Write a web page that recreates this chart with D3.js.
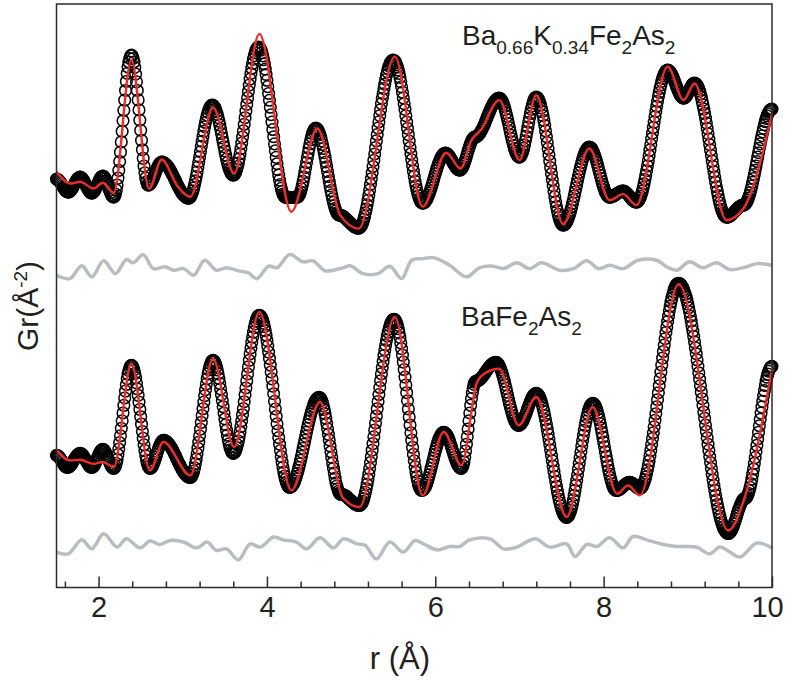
<!DOCTYPE html>
<html>
<head>
<meta charset="utf-8">
<script src="https://cdn.jsdelivr.net/npm/d3@7"></script>
<style>
  body { margin: 0; background: #fff; }
  svg { display: block; }
  text { font-family: "Liberation Sans", Arial, Helvetica, sans-serif; fill: #231f20; }
</style>
</head>
<body>
<svg id="chart" width="786" height="680"></svg>
<script>
// Pair distribution functions G(r), measured on a regular r grid
const rStart = 1.5;
const rStep = 0.01;

// Ba0.66K0.34Fe2As2, measured (one row per 0.5 Å)
const obsK = [
  0.05,0.04,0.02,-0.02,-0.07,-0.13,-0.20,-0.27,-0.35,-0.42,-0.48,-0.53,-0.57,-0.59,-0.60,-0.59,-0.56,-0.52,-0.46,-0.39,-0.31,-0.23,-0.14,-0.06,0.01,0.07,0.11,0.14,0.15,0.14,0.11,0.06,0.00,-0.08,-0.16,-0.25,-0.34,-0.42,-0.50,-0.56,-0.61,-0.64,-0.65,-0.63,-0.60,-0.54,-0.47,-0.38,-0.28,-0.18,
  -0.08,0.01,0.10,0.16,0.19,0.20,0.19,0.14,0.07,-0.03,-0.14,-0.26,-0.39,-0.51,-0.62,-0.72,-0.79,-0.83,-0.85,-0.80,-0.69,-0.50,-0.24,0.10,0.49,0.93,1.40,1.91,2.44,2.97,3.49,4.00,4.48,4.93,5.33,5.65,5.90,6.08,6.21,6.25,6.21,6.08,5.90,5.63,5.30,4.91,4.48,4.01,3.51,3.00,
  2.49,1.99,1.52,1.09,0.70,0.37,0.10,-0.08,-0.21,-0.25,-0.24,-0.20,-0.15,-0.07,0.01,0.11,0.21,0.32,0.44,0.54,0.64,0.73,0.80,0.85,0.89,0.90,0.90,0.88,0.86,0.83,0.79,0.75,0.70,0.64,0.57,0.50,0.42,0.34,0.26,0.18,0.09,0.00,-0.09,-0.18,-0.26,-0.34,-0.42,-0.50,-0.57,-0.64,
  -0.70,-0.75,-0.79,-0.83,-0.86,-0.88,-0.90,-0.90,-0.89,-0.84,-0.77,-0.67,-0.54,-0.39,-0.22,-0.03,0.18,0.41,0.66,0.91,1.16,1.42,1.69,1.94,2.19,2.44,2.67,2.88,3.07,3.24,3.39,3.52,3.62,3.69,3.74,3.75,3.74,3.70,3.63,3.54,3.42,3.28,3.12,2.94,2.75,2.54,2.33,2.11,1.89,1.67,
  1.46,1.25,1.06,0.88,0.72,0.58,0.47,0.38,0.31,0.27,0.25,0.27,0.32,0.41,0.53,0.68,0.86,1.07,1.31,1.57,1.85,2.15,2.46,2.79,3.12,3.45,3.78,4.11,4.44,4.75,5.05,5.33,5.59,5.83,6.04,6.22,6.37,6.49,6.58,6.63,6.65,6.63,6.58,6.49,6.37,6.21,6.02,5.80,5.55,5.28,
  4.99,4.67,4.33,3.99,3.64,3.27,2.90,2.53,2.17,1.81,1.47,1.14,0.82,0.52,0.25,0.00,-0.22,-0.41,-0.57,-0.69,-0.78,-0.83,-0.85,-0.86,-0.86,-0.87,-0.87,-0.87,-0.87,-0.87,-0.87,-0.87,-0.86,-0.86,-0.86,-0.86,-0.85,-0.83,-0.78,-0.69,-0.58,-0.43,-0.26,-0.06,0.16,0.39,0.63,0.88,1.12,1.36,
  1.59,1.81,2.01,2.18,2.32,2.44,2.53,2.58,2.60,2.58,2.55,2.48,2.38,2.27,2.13,1.96,1.78,1.58,1.37,1.15,0.91,0.67,0.43,0.18,-0.06,-0.29,-0.52,-0.73,-0.93,-1.11,-1.27,-1.41,-1.53,-1.63,-1.70,-1.73,-1.75,-1.75,-1.76,-1.78,-1.80,-1.82,-1.85,-1.89,-1.93,-1.97,-2.01,-2.06,-2.10,-2.14,
  -2.18,-2.22,-2.26,-2.30,-2.33,-2.35,-2.37,-2.39,-2.40,-2.40,-2.39,-2.35,-2.29,-2.20,-2.10,-1.96,-1.81,-1.63,-1.44,-1.23,-1.01,-0.76,-0.49,-0.21,0.07,0.37,0.68,0.99,1.31,1.63,1.96,2.28,2.60,2.91,3.22,3.52,3.82,4.08,4.32,4.57,4.80,5.03,5.24,5.41,5.57,5.70,5.81,5.89,5.95,5.99,
  6.00,5.98,5.94,5.87,5.77,5.65,5.50,5.33,5.13,4.91,4.66,4.39,4.11,3.82,3.53,3.22,2.90,2.59,2.27,1.95,1.63,1.32,1.02,0.73,0.45,0.19,-0.06,-0.28,-0.47,-0.64,-0.79,-0.92,-1.02,-1.09,-1.14,-1.15,-1.14,-1.12,-1.08,-1.02,-0.95,-0.86,-0.76,-0.65,-0.53,-0.40,-0.26,-0.12,0.03,0.18,
  0.32,0.46,0.60,0.73,0.85,0.96,1.06,1.15,1.22,1.28,1.32,1.34,1.35,1.34,1.32,1.29,1.24,1.18,1.11,1.04,0.96,0.88,0.81,0.74,0.67,0.61,0.56,0.53,0.51,0.50,0.51,0.55,0.61,0.70,0.80,0.92,1.04,1.18,1.33,1.47,1.61,1.73,1.85,1.95,2.04,2.10,2.14,2.15,2.16,2.18,
  2.20,2.24,2.29,2.35,2.42,2.50,2.58,2.67,2.76,2.86,2.97,3.07,3.18,3.28,3.38,3.48,3.58,3.67,3.76,3.84,3.91,3.96,4.01,4.05,4.08,4.09,4.10,4.08,4.05,3.98,3.90,3.79,3.67,3.52,3.36,3.19,3.01,2.82,2.63,2.43,2.24,2.06,1.89,1.73,1.58,1.46,1.35,1.27,1.20,1.16,
  1.15,1.17,1.22,1.32,1.44,1.59,1.77,1.97,2.19,2.42,2.65,2.89,3.12,3.33,3.53,3.71,3.86,3.98,4.08,4.13,4.15,4.13,4.09,4.01,3.91,3.77,3.61,3.42,3.22,2.98,2.73,2.46,2.17,1.88,1.58,1.27,0.95,0.63,0.32,0.02,-0.27,-0.56,-0.83,-1.08,-1.32,-1.52,-1.71,-1.87,-2.01,-2.11,
  -2.19,-2.23,-2.25,-2.24,-2.21,-2.16,-2.09,-2.00,-1.90,-1.78,-1.65,-1.50,-1.33,-1.16,-0.98,-0.79,-0.59,-0.40,-0.20,0.00,0.19,0.38,0.56,0.73,0.89,1.04,1.17,1.30,1.41,1.49,1.56,1.61,1.64,1.65,1.64,1.61,1.56,1.48,1.39,1.28,1.16,1.03,0.88,0.72,0.56,0.40,0.24,0.08,-0.08,-0.22,
  -0.35,-0.48,-0.59,-0.68,-0.76,-0.81,-0.84,-0.85,-0.85,-0.84,-0.82,-0.80,-0.78,-0.76,-0.73,-0.70,-0.67,-0.64,-0.62,-0.60,-0.58,-0.56,-0.55,-0.55,-0.55,-0.57,-0.60,-0.63,-0.67,-0.72,-0.77,-0.82,-0.88,-0.93,-0.98,-1.02,-1.05,-1.08,-1.09,-1.10,-1.09,-1.05,-0.99,-0.91,-0.81,-0.68,-0.54,-0.37,-0.18,0.03,
  0.24,0.47,0.71,0.96,1.22,1.50,1.78,2.07,2.35,2.63,2.90,3.17,3.43,3.69,3.94,4.17,4.38,4.58,4.76,4.93,5.08,5.20,5.31,5.39,5.45,5.49,5.50,5.49,5.46,5.41,5.35,5.27,5.18,5.08,4.97,4.86,4.74,4.63,4.52,4.42,4.33,4.25,4.18,4.14,4.11,4.10,4.11,4.14,4.19,4.26,
  4.34,4.43,4.52,4.61,4.69,4.76,4.81,4.84,4.85,4.83,4.80,4.74,4.67,4.57,4.45,4.31,4.15,3.96,3.76,3.55,3.33,3.10,2.86,2.59,2.32,2.05,1.77,1.50,1.23,0.95,0.68,0.42,0.16,-0.09,-0.33,-0.56,-0.77,-0.97,-1.15,-1.31,-1.45,-1.57,-1.67,-1.74,-1.80,-1.83,-1.85,-1.85,-1.84,-1.82,
  -1.79,-1.76,-1.73,-1.69,-1.64,-1.60,-1.55,-1.50,-1.46,-1.41,-1.37,-1.34,-1.31,-1.28,-1.26,-1.25,-1.25,-1.24,-1.21,-1.16,-1.09,-1.00,-0.89,-0.77,-0.63,-0.47,-0.29,-0.11,0.08,0.28,0.49,0.71,0.93,1.15,1.37,1.59,1.81,2.02,2.22,2.41,2.59,2.77,2.93,3.08,3.21,3.31,3.39,3.46,3.51,3.54,
  3.55
];

// BaFe2As2, measured (one row per 0.5 Å)
const obsBa = [
  0.15,0.14,0.12,0.07,0.02,-0.04,-0.11,-0.18,-0.26,-0.32,-0.38,-0.42,-0.44,-0.45,-0.44,-0.42,-0.38,-0.34,-0.28,-0.21,-0.14,-0.06,0.01,0.07,0.13,0.18,0.22,0.24,0.25,0.24,0.22,0.18,0.12,0.05,-0.02,-0.10,-0.18,-0.25,-0.32,-0.38,-0.42,-0.44,-0.45,-0.43,-0.40,-0.34,-0.26,-0.16,-0.05,0.06,
  0.16,0.26,0.34,0.40,0.44,0.45,0.44,0.39,0.33,0.24,0.14,0.03,-0.08,-0.19,-0.29,-0.38,-0.45,-0.49,-0.50,-0.47,-0.39,-0.25,-0.06,0.19,0.47,0.79,1.13,1.50,1.88,2.27,2.65,3.02,3.36,3.69,3.98,4.21,4.39,4.53,4.62,4.65,4.62,4.54,4.42,4.24,4.03,3.77,3.47,3.15,2.81,2.45,
  2.08,1.71,1.34,1.00,0.68,0.39,0.13,-0.09,-0.27,-0.39,-0.47,-0.50,-0.49,-0.45,-0.38,-0.29,-0.19,-0.07,0.06,0.20,0.34,0.47,0.59,0.69,0.78,0.84,0.89,0.90,0.90,0.88,0.86,0.83,0.79,0.74,0.69,0.63,0.56,0.49,0.41,0.33,0.24,0.16,0.07,-0.03,-0.12,-0.21,-0.29,-0.38,-0.46,-0.54,
  -0.61,-0.68,-0.74,-0.79,-0.84,-0.88,-0.91,-0.93,-0.95,-0.95,-0.93,-0.87,-0.77,-0.63,-0.47,-0.26,-0.03,0.23,0.51,0.81,1.13,1.46,1.80,2.14,2.48,2.81,3.13,3.43,3.72,3.98,4.22,4.42,4.59,4.72,4.82,4.88,4.90,4.87,4.82,4.72,4.59,4.42,4.22,3.99,3.74,3.47,3.18,2.88,2.58,2.27,
  1.97,1.68,1.41,1.16,0.93,0.73,0.56,0.43,0.33,0.27,0.25,0.27,0.32,0.41,0.53,0.68,0.86,1.08,1.32,1.59,1.88,2.18,2.49,2.83,3.18,3.52,3.87,4.22,4.57,4.90,5.22,5.52,5.80,6.07,6.31,6.53,6.72,6.87,6.99,7.08,7.13,7.15,7.13,7.08,7.00,6.89,6.75,6.58,6.38,6.15,
  5.89,5.61,5.31,4.99,4.66,4.32,3.97,3.61,3.23,2.85,2.47,2.10,1.73,1.38,1.04,0.71,0.39,0.09,-0.19,-0.45,-0.68,-0.88,-1.05,-1.19,-1.30,-1.38,-1.43,-1.45,-1.44,-1.41,-1.37,-1.31,-1.23,-1.13,-1.02,-0.89,-0.75,-0.60,-0.44,-0.27,-0.09,0.10,0.30,0.50,0.70,0.90,1.10,1.30,1.50,1.69,
  1.87,2.04,2.20,2.35,2.49,2.62,2.74,2.83,2.91,2.97,3.01,3.04,3.05,3.03,2.98,2.90,2.78,2.62,2.44,2.23,2.00,1.75,1.48,1.20,0.92,0.62,0.33,0.05,-0.23,-0.49,-0.73,-0.99,-1.22,-1.38,-1.52,-1.64,-1.73,-1.78,-1.80,-1.80,-1.81,-1.82,-1.84,-1.86,-1.89,-1.92,-1.96,-2.00,-2.04,-2.08,
  -2.11,-2.15,-2.19,-2.23,-2.26,-2.29,-2.31,-2.33,-2.34,-2.35,-2.35,-2.33,-2.29,-2.23,-2.14,-2.02,-1.87,-1.70,-1.51,-1.29,-1.05,-0.79,-0.51,-0.21,0.09,0.41,0.74,1.08,1.42,1.77,2.12,2.48,2.84,3.19,3.54,3.88,4.22,4.54,4.84,5.14,5.42,5.67,5.90,6.11,6.30,6.47,6.62,6.74,6.83,6.90,
  6.94,6.95,6.93,6.87,6.78,6.65,6.48,6.27,6.04,5.77,5.48,5.16,4.81,4.44,4.06,3.67,3.28,2.88,2.47,2.07,1.67,1.28,0.91,0.55,0.20,-0.12,-0.42,-0.68,-0.91,-1.12,-1.30,-1.43,-1.52,-1.58,-1.60,-1.59,-1.56,-1.51,-1.44,-1.35,-1.24,-1.11,-0.97,-0.82,-0.66,-0.49,-0.32,-0.15,0.02,0.19,
  0.36,0.51,0.66,0.81,0.95,1.05,1.13,1.20,1.26,1.29,1.30,1.29,1.26,1.21,1.15,1.06,0.96,0.85,0.73,0.60,0.47,0.33,0.20,0.07,-0.05,-0.16,-0.27,-0.35,-0.41,-0.46,-0.49,-0.50,-0.46,-0.35,-0.18,0.07,0.37,0.71,1.08,1.47,1.88,2.27,2.65,2.99,3.28,3.52,3.70,3.81,3.85,3.86,
  3.87,3.89,3.91,3.95,3.99,4.04,4.09,4.14,4.20,4.27,4.33,4.39,4.45,4.51,4.56,4.61,4.66,4.70,4.74,4.76,4.78,4.79,4.80,4.79,4.76,4.70,4.63,4.54,4.43,4.30,4.17,4.02,3.86,3.68,3.50,3.32,3.13,2.95,2.77,2.60,2.44,2.29,2.14,2.02,1.91,1.82,1.74,1.69,1.66,1.65,
  1.66,1.69,1.73,1.79,1.86,1.95,2.05,2.16,2.27,2.39,2.51,2.63,2.74,2.85,2.95,3.04,3.11,3.17,3.21,3.24,3.25,3.23,3.20,3.14,3.06,2.95,2.83,2.68,2.52,2.34,2.14,1.93,1.70,1.46,1.21,0.95,0.69,0.42,0.15,-0.12,-0.39,-0.65,-0.91,-1.16,-1.40,-1.63,-1.84,-2.04,-2.22,-2.38,
  -2.53,-2.65,-2.76,-2.84,-2.90,-2.93,-2.95,-2.93,-2.89,-2.82,-2.72,-2.59,-2.44,-2.26,-2.07,-1.84,-1.60,-1.35,-1.10,-0.82,-0.53,-0.25,0.04,0.33,0.62,0.89,1.15,1.40,1.64,1.85,2.05,2.23,2.40,2.52,2.62,2.69,2.73,2.75,2.74,2.70,2.63,2.54,2.42,2.27,2.11,1.93,1.74,1.52,1.29,1.06,
  0.82,0.58,0.33,0.10,-0.14,-0.37,-0.59,-0.78,-0.96,-1.12,-1.27,-1.39,-1.48,-1.55,-1.59,-1.60,-1.60,-1.59,-1.57,-1.54,-1.51,-1.48,-1.44,-1.40,-1.36,-1.32,-1.29,-1.26,-1.23,-1.21,-1.20,-1.20,-1.21,-1.22,-1.24,-1.27,-1.31,-1.35,-1.39,-1.43,-1.46,-1.48,-1.49,-1.50,-1.49,-1.46,-1.40,-1.31,-1.20,-1.07,
  -0.93,-0.76,-0.57,-0.36,-0.13,0.13,0.40,0.69,0.99,1.28,1.58,1.90,2.23,2.58,2.93,3.28,3.63,3.97,4.31,4.66,5.01,5.34,5.66,5.98,6.29,6.57,6.84,7.11,7.37,7.60,7.81,8.00,8.18,8.32,8.45,8.56,8.65,8.70,8.74,8.75,8.74,8.71,8.67,8.61,8.53,8.43,8.32,8.19,8.05,7.89,
  7.71,7.52,7.32,7.10,6.86,6.62,6.36,6.09,5.81,5.52,5.23,4.92,4.60,4.28,3.96,3.64,3.31,2.98,2.65,2.32,2.00,1.67,1.35,1.03,0.71,0.40,0.09,-0.21,-0.51,-0.80,-1.08,-1.35,-1.60,-1.85,-2.08,-2.30,-2.50,-2.70,-2.89,-3.05,-3.19,-3.32,-3.44,-3.53,-3.61,-3.67,-3.71,-3.74,-3.75,-3.74,
  -3.71,-3.66,-3.58,-3.49,-3.39,-3.27,-3.15,-3.02,-2.88,-2.74,-2.60,-2.48,-2.36,-2.26,-2.17,-2.10,-2.04,-2.01,-2.00,-1.98,-1.94,-1.86,-1.75,-1.61,-1.45,-1.26,-1.04,-0.79,-0.53,-0.25,0.04,0.34,0.65,0.97,1.30,1.63,1.95,2.26,2.56,2.85,3.13,3.39,3.64,3.86,4.05,4.21,4.35,4.45,4.53,4.58,
  4.60
];

// Calculated model curves
const fitKR = [1.50,1.67,1.78,1.94,2.05,2.18,2.39,2.60,2.75,2.93,3.09,3.36,3.61,3.91,4.29,4.60,4.87,5.09,5.52,5.85,6.13,6.30,6.43,6.54,6.76,7.00,7.20,7.52,7.83,8.07,8.23,8.39,8.76,8.95,9.08,9.46,9.66,10.00];
const fitKG = [0.42,-0.17,-0.08,-0.42,-0.13,-0.63,6.00,-0.42,1.03,-0.25,-0.83,3.63,0.33,7.30,-1.58,2.58,-1.75,-2.42,6.17,-1.33,1.37,0.58,2.00,2.50,4.00,1.00,4.25,-2.20,1.58,-1.00,-0.70,-1.25,5.67,4.00,4.83,-2.00,-1.42,3.30];
const fitBaR = [1.50,1.66,1.78,1.94,2.05,2.18,2.39,2.61,2.77,3.09,3.36,3.61,3.91,4.29,4.63,4.90,5.10,5.52,5.85,6.10,6.31,6.49,6.58,6.76,6.99,7.20,7.56,7.87,8.16,8.29,8.43,8.89,9.48,9.67,10.00];
const fitBaG = [0.43,-0.10,-0.07,-0.27,-0.18,-0.43,4.73,-0.60,0.82,-0.85,4.98,0.57,7.32,-1.60,2.82,-1.95,-2.43,7.07,-1.85,1.32,-0.35,3.73,4.23,4.48,1.65,3.07,-2.93,2.57,-1.77,-1.35,-1.85,8.70,-3.60,-2.02,4.45];

// Difference curves (measured minus calculated)
const diffKR = [1.50,1.66,1.80,1.92,2.06,2.20,2.33,2.41,2.53,2.65,2.79,2.89,3.01,3.13,3.26,3.40,3.52,3.66,3.78,3.88,4.02,4.12,4.27,4.43,4.55,4.69,4.91,4.99,5.14,5.32,5.46,5.60,5.72,5.86,5.98,6.17,6.37,6.53,6.69,6.81,6.97,7.12,7.26,7.48,7.64,7.80,7.94,8.07,8.23,8.41,8.63,8.75,8.87,9.02,9.18,9.34,9.50,9.66,9.82,10.00];
const diffKG = [-0.35,-0.52,0.12,-0.43,0.37,-0.27,0.43,0.27,0.68,-0.02,0.07,-0.10,-0.02,-0.35,0.40,-0.10,0.03,-0.13,-0.23,-0.52,0.10,0.03,0.68,0.32,0.37,-0.13,0.03,0.12,-0.27,-0.27,0.10,-0.52,0.40,0.48,0.53,0.15,-0.43,0.03,0.10,-0.02,0.27,-0.02,0.27,-0.10,-0.02,0.37,-0.02,0.15,-0.02,0.40,0.40,0.07,-0.10,0.32,0.03,0.27,-0.07,0.03,0.23,0.15];
const diffBaR = [1.50,1.64,1.80,1.92,2.06,2.22,2.33,2.49,2.61,2.73,2.85,3.01,3.17,3.29,3.40,3.52,3.66,3.80,3.92,4.08,4.19,4.35,4.47,4.63,4.79,4.91,5.07,5.17,5.30,5.46,5.62,5.76,5.86,6.02,6.17,6.29,6.41,6.65,6.81,6.97,7.12,7.20,7.36,7.56,7.66,7.80,7.92,8.07,8.23,8.35,8.51,8.71,8.87,9.10,9.26,9.38,9.50,9.62,9.82,10.00];
const diffBaG = [-0.18,-0.27,0.43,-0.02,0.73,0.07,0.48,0.03,0.37,0.20,0.40,0.32,0.03,0.32,-0.10,-0.02,-0.57,0.23,0.07,0.57,0.43,0.32,-0.02,0.53,0.03,0.48,0.23,0.15,-0.52,0.32,-0.18,0.40,0.23,-0.07,0.10,0.10,0.43,0.48,-0.02,0.07,0.40,0.48,0.07,0.23,-0.40,0.20,0.10,0.53,0.03,0.60,0.43,0.20,0.10,0.07,-0.27,0.07,-0.18,-0.43,0.27,0.03];

// Axis ticks
const majorTicks = [2, 4, 6, 8, 10];
const minorTicks = [1.6, 2.4, 2.8, 3.2, 3.6, 4.4, 4.8, 5.2, 5.6, 6.4, 6.8, 7.2, 7.6, 8.4, 8.8, 9.2, 9.6];

// Plot frame
const frameLeft = 56.5, frameRight = 772, frameTop = 4, frameBottom = 587.5;

const svg = d3.select("#chart");
const x = d3.scaleLinear().domain([1.5, 10]).range([frameLeft, frameRight]);
const y = d3.scaleLinear().domain([-6.45, 22.7]).range([frameBottom, frameTop]);

const panels = [
  { obs: obsK,  fitR: fitKR,  fitG: fitKG,  diffR: diffKR,  diffG: diffKG,  offset: 13.9, diffOffset: 9.5 },
  { obs: obsBa, fitR: fitBaR, fitG: fitBaG, diffR: diffBaR, diffG: diffBaG, offset: 0,    diffOffset: -4.5 }
];

const fitLine = d3.line().curve(d3.curveMonotoneX).x(d => x(d[0])).y(d => y(d[1]));
const diffLine = d3.line().curve(d3.curveCatmullRom.alpha(0.5)).x(d => x(d[0])).y(d => y(d[1]));

// measured points as open circles
panels.forEach(p => {
  const pts = p.obs.map((g, i) => ({ r: rStart + i * rStep, g: g + p.offset }));
  svg.append("g")
    .selectAll("circle")
    .data(pts)
    .join("circle")
    .attr("cx", d => x(d.r))
    .attr("cy", d => y(d.g))
    .attr("r", 5.8)
    .attr("fill", "none")
    .attr("stroke", "#000")
    .attr("stroke-width", 1.5);
});

// difference and model curves
panels.forEach(p => {
  svg.append("path")
    .datum(p.diffR.map((r, i) => [r, p.diffG[i] + p.diffOffset]))
    .attr("d", diffLine)
    .attr("fill", "none")
    .attr("stroke", "#b9bdc1")
    .attr("stroke-width", 3.5)
    .attr("stroke-linejoin", "round");
  svg.append("path")
    .datum(p.fitR.map((r, i) => [r, p.fitG[i] + p.offset]))
    .attr("d", fitLine)
    .attr("fill", "none")
    .attr("stroke", "#ec2d2a")
    .attr("stroke-width", 2.4)
    .attr("stroke-linejoin", "round");
});

// frame
svg.append("rect")
  .attr("x", frameLeft).attr("y", frameTop)
  .attr("width", frameRight - frameLeft).attr("height", frameBottom - frameTop)
  .attr("fill", "none").attr("stroke", "#2b2b2b").attr("stroke-width", 1.5);

// bottom axis: inward ticks
const gMinor = svg.append("g").attr("transform", `translate(0,${frameBottom})`)
  .call(d3.axisBottom(x).tickValues(minorTicks).tickSize(-6).tickFormat(""));
const gMajor = svg.append("g").attr("transform", `translate(0,${frameBottom})`)
  .call(d3.axisBottom(x).tickValues(majorTicks).tickSize(-11).tickPadding(9).tickFormat(d3.format("d")));
[gMinor, gMajor].forEach(g => {
  g.select(".domain").remove();
  g.selectAll(".tick line").attr("stroke", "#2b2b2b").attr("stroke-width", 1.5);
});
gMajor.selectAll(".tick text")
  .attr("font-size", 29)
  .attr("font-family", "'Liberation Sans', Arial, sans-serif")
  .attr("fill", "#231f20")
  .attr("dx", d => d === 10 ? -5 : 0);

// axis titles
svg.append("text")
  .attr("x", 400).attr("y", 669)
  .attr("text-anchor", "middle")
  .attr("font-size", 31)
  .text("r (Å)");

const yt = svg.append("text")
  .attr("transform", "translate(38,306) rotate(-90)")
  .attr("text-anchor", "middle")
  .attr("font-size", 30);
yt.append("tspan").text("Gr(Å");
yt.append("tspan").attr("font-size", 19).attr("dy", -11).text("-2");
yt.append("tspan").attr("dy", 11).text(")");

// sample labels with subscripts
function formula(xp, yp, parts) {
  const t = svg.append("text").attr("x", xp).attr("y", yp).attr("font-size", 28);
  let shifted = false;
  parts.forEach(([s, sub]) => {
    const ts = t.append("tspan").text(s);
    if (sub && !shifted) { ts.attr("font-size", 19).attr("dy", 9); shifted = true; }
    else if (!sub && shifted) { ts.attr("dy", -9); shifted = false; }
  });
}
formula(462, 45, [["Ba"], ["0.66", 1], ["K"], ["0.34", 1], ["Fe"], ["2", 1], ["As"], ["2", 1]]);
formula(461, 326, [["Ba"], ["Fe"], ["2", 1], ["As"], ["2", 1]]);
</script>
</body>
</html>
